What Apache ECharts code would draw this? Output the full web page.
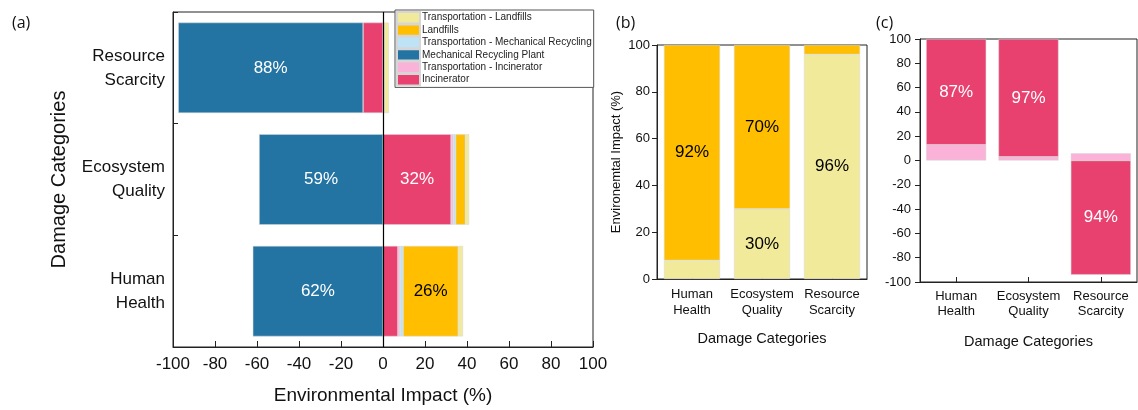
<!DOCTYPE html>
<html>
<head>
<meta charset="utf-8">
<script src="https://cdn.jsdelivr.net/npm/echarts@6/dist/echarts.min.js"></script>
<style>
  html, body { margin: 0; padding: 0; background: #fff; }
  #chart { width: 1138px; height: 410px; }
</style>
</head>
<body>
<div id="chart"></div>
<script>
// categories, bottom to top in panel (a)
const categories = ['Human\nHealth', 'Ecosystem\nQuality', 'Resource\nScarcity']
const seriesNames = ['Transportation - Landfills', 'Landfills', 'Transportation - Mechanical Recycling',
    'Mechanical Recycling Plant', 'Transportation - Incinerator', 'Incinerator']

// panel (a): share of each process, %
const incineratorA = [7.1, 32.4, -9.5]
const transIncA = [1.0, 1.0, 0.3]
const transMechA = [1.5, 1.2, 0.2]
const mechPlantA = [-62, -59, -88]
const landfillsA = [26.2, 4.6, 0.1]
const transLandfillsA = [2.3, 1.8, 2.2]

// panel (b): landfill route
const transLandfillsB = [8, 30, 96]
const landfillsB = [92, 70, 4]

// panel (c): incinerator route
const transIncC = [13, 3, 6]
const incineratorC = [87, 97, -94]

const tickLabelsA = [-100, -80, -60, -40, -20, 0, 20, 40, 60, 80, 100]

const colors = {
    'Transportation - Landfills': '#F1EA9B',
    'Landfills': '#FFBF00',
    'Transportation - Mechanical Recycling': '#BEE3F6',
    'Mechanical Recycling Plant': '#2373A3',
    'Transportation - Incinerator': '#FBB2D8',
    'Incinerator': '#E8406F'
}
const labelColors = {
    'Transportation - Landfills': '#000',
    'Landfills': '#000',
    'Mechanical Recycling Plant': '#fff',
    'Incinerator': '#fff'
}
const font = '"Liberation Sans", Arial, sans-serif'

function pct (p) {
    return Math.round(Math.abs(p.value)) + '%'
}

function makeBar (name, values, gridIdx, gap, horizontal) {
    return {
        name: name,
        type: 'bar',
        stack: 'g' + gridIdx,
        xAxisIndex: gridIdx,
        yAxisIndex: gridIdx,
        barCategoryGap: gap,
        itemStyle: { color: colors[name], borderColor: '#d6d6d6', borderWidth: 0.5 },
        label: {
            position: 'inside',
            formatter: pct,
            color: labelColors[name] || '#000',
            fontSize: 17,
            fontFamily: font
        },
        data: values.map(v => ({ value: v, label: { show: Math.abs(v) >= 20 } })),
        markLine: horizontal && name === 'Incinerator' ? {
            silent: true,
            symbol: 'none',
            label: { show: false },
            lineStyle: { color: '#000', width: 1.2, type: 'solid' },
            data: [{ xAxis: 0 }]
        } : undefined
    }
}

const axisLineStyle = { show: true, onZero: false, lineStyle: { color: '#222', width: 1 } }
const tickLbl = { color: '#111', fontFamily: font }

const chart = echarts.init(document.getElementById('chart'))
chart.setOption({
    animation: false,
    textStyle: { fontFamily: font },
    title: [
        { text: '(a)', left: 7, top: 10, textStyle: { fontSize: 16, fontWeight: 'normal', color: '#111', fontFamily: '"Open Sans", sans-serif' } },
        { text: '(b)', left: 611, top: 10, textStyle: { fontSize: 16, fontWeight: 'normal', color: '#111', fontFamily: '"Open Sans", sans-serif' } },
        { text: '(c)', left: 871, top: 10, textStyle: { fontSize: 16, fontWeight: 'normal', color: '#111', fontFamily: '"Open Sans", sans-serif' } }
    ],
    legend: {
        data: seriesNames,
        orient: 'vertical',
        left: 395,
        top: 10,
        padding: [1, 2, 1, 1],
        itemGap: -1,
        itemWidth: 23,
        itemHeight: 11.4,
        icon: 'rect',
        borderColor: '#555',
        borderWidth: 1,
        backgroundColor: '#fff',
        textStyle: { fontSize: 10, lineHeight: 11, color: '#222', fontFamily: font, padding: [0, 0, 0, -3] }
    },
    grid: [
        { left: 173, top: 12, right: 545, bottom: 62, show: true, borderColor: '#222', borderWidth: 1 },
        { left: 657, top: 45, right: 271, bottom: 131, show: true, borderColor: '#222', borderWidth: 1 },
        { left: 920, top: 39, right: 1, bottom: 128, show: true, borderColor: '#222', borderWidth: 1 }
    ],
    xAxis: [
        {
            gridIndex: 0, type: 'value', min: tickLabelsA[0], max: tickLabelsA[tickLabelsA.length - 1], interval: 20,
            name: 'Environmental Impact (%)', nameLocation: 'middle', nameGap: 39,
            nameTextStyle: { fontSize: 19, color: '#111', fontFamily: font },
            axisLine: axisLineStyle,
            axisTick: { show: true, inside: true, length: 6, lineStyle: { color: '#222' } },
            axisLabel: Object.assign({ fontSize: 17, margin: 9 }, tickLbl),
            splitLine: { show: false }
        },
        {
            gridIndex: 1, type: 'category', data: categories,
            name: 'Damage Categories', nameLocation: 'middle', nameGap: 52,
            nameTextStyle: { fontSize: 14.5, color: '#111', fontFamily: font },
            axisLine: axisLineStyle,
            axisTick: { show: true, inside: true, alignWithLabel: true, length: 5, lineStyle: { color: '#222' } },
            axisLabel: Object.assign({ fontSize: 13, margin: 7, lineHeight: 16, interval: 0 }, tickLbl)
        },
        {
            gridIndex: 2, type: 'category', data: categories,
            name: 'Damage Categories', nameLocation: 'middle', nameGap: 52,
            nameTextStyle: { fontSize: 14.5, color: '#111', fontFamily: font },
            axisLine: axisLineStyle,
            axisTick: { show: true, inside: true, alignWithLabel: true, length: 5, lineStyle: { color: '#222' } },
            axisLabel: Object.assign({ fontSize: 13, margin: 7, lineHeight: 15, interval: 0 }, tickLbl)
        }
    ],
    yAxis: [
        {
            gridIndex: 0, type: 'category', data: categories,
            name: 'Damage Categories', nameLocation: 'middle', nameGap: 104,
            nameTextStyle: { fontSize: 20, color: '#111', fontFamily: font },
            axisLine: axisLineStyle,
            axisTick: { show: true, inside: true, length: 5, lineStyle: { color: '#222' } },
            axisLabel: Object.assign({ fontSize: 17, margin: 8, lineHeight: 24, align: 'right', interval: 0 }, tickLbl)
        },
        {
            gridIndex: 1, type: 'value', min: 0, max: 100, interval: 20,
            name: 'Environemtal Impact (%)', nameLocation: 'middle', nameGap: 34,
            nameTextStyle: { fontSize: 13, color: '#111', fontFamily: font },
            axisLine: axisLineStyle,
            axisTick: { show: true, length: 5, lineStyle: { color: '#222' } },
            axisLabel: Object.assign({ fontSize: 13, margin: 7 }, tickLbl),
            splitLine: { show: false }
        },
        {
            gridIndex: 2, type: 'value', min: -100, max: 100, interval: 20,
            axisLine: axisLineStyle,
            axisTick: { show: true, length: 5, lineStyle: { color: '#222' } },
            axisLabel: Object.assign({ fontSize: 13, margin: 9 }, tickLbl),
            splitLine: { show: false }
        }
    ],
    series: [
        makeBar('Incinerator', incineratorA, 0, '19%', true),
        makeBar('Transportation - Incinerator', transIncA, 0, '19%', true),
        makeBar('Transportation - Mechanical Recycling', transMechA, 0, '19%', true),
        makeBar('Mechanical Recycling Plant', mechPlantA, 0, '19%', true),
        makeBar('Landfills', landfillsA, 0, '19%', true),
        makeBar('Transportation - Landfills', transLandfillsA, 0, '19%', true),

        makeBar('Transportation - Landfills', transLandfillsB, 1, '20%', false),
        makeBar('Landfills', landfillsB, 1, '20%', false),

        makeBar('Transportation - Incinerator', transIncC, 2, '17%', false),
        makeBar('Incinerator', incineratorC, 2, '17%', false)
    ]
})
</script>
</body>
</html>
